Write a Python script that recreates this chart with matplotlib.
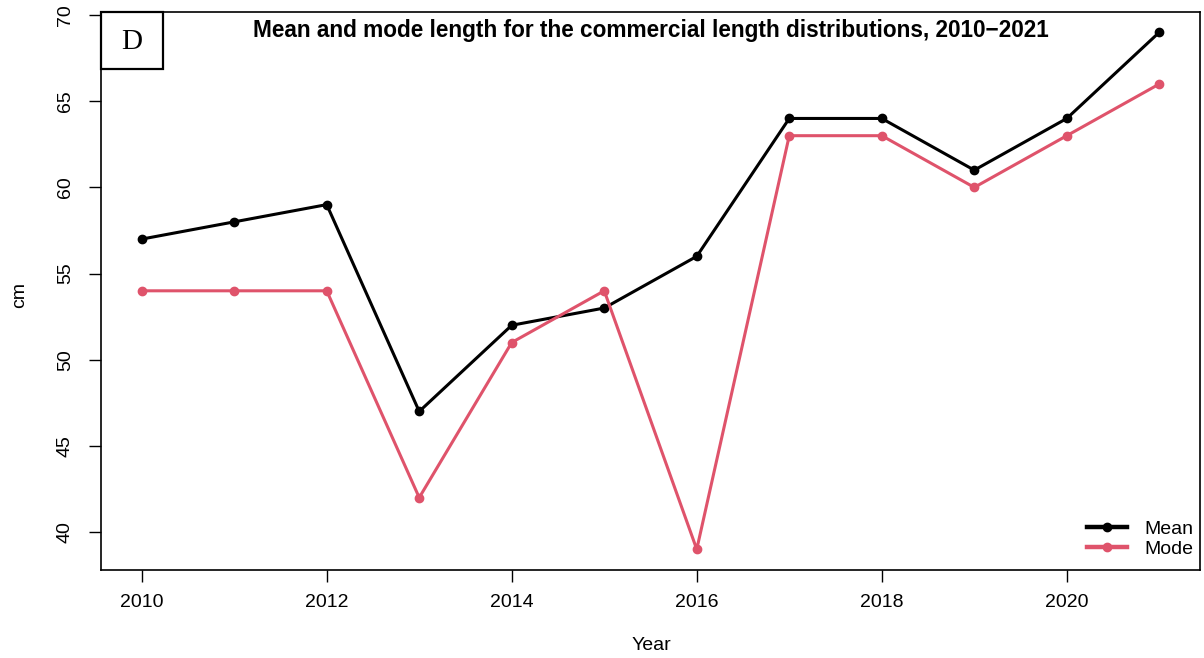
import matplotlib
matplotlib.use("Agg")
import matplotlib.pyplot as plt
from matplotlib.patches import Rectangle

years = [2010, 2011, 2012, 2013, 2014, 2015, 2016, 2017, 2018, 2019, 2020, 2021]
mean_len = [57, 58, 59, 47, 52, 53, 56, 64, 64, 61, 64, 69]
mode_len = [54, 54, 54, 42, 51, 54, 39, 63, 63, 60, 63, 66]
x_ticks = [2010, 2012, 2014, 2016, 2018, 2020]
y_ticks = [40, 45, 50, 55, 60, 65, 70]

plt.rcParams["font.family"] = ["Liberation Sans", "DejaVu Sans"]

W, H = 1204, 658
fig = plt.figure(figsize=(W / 100, H / 100), dpi=100)
ax = fig.add_axes([101 / W, 1 - 570 / H, 1099 / W, (570 - 11.6) / H])

ax.plot(years, mean_len, color="black", lw=2.2, marker="o", ms=6, label="Mean")
ax.plot(years, mode_len, color="#DF536B", lw=2.2, marker="o", ms=6, label="Mode")

ax.set_xlim(2010 - 0.44, 2021 + 0.44)
ax.set_ylim(37.8, 70.2)
ax.set_xticks(x_ticks)
ax.set_yticks(y_ticks)
ax.set_yticklabels([str(v) for v in y_ticks], rotation=90, va="center")
ax.tick_params(axis="both", labelsize=14, length=8.6, width=1)
ax.tick_params(axis="x", pad=9)
ax.tick_params(axis="y", pad=11)
for s in ax.spines.values():
    s.set_linewidth(1.2)

fig.text(651 / W, 1 - 645 / H, "Year", ha="center", va="center", fontsize=14)
fig.text(20 / W, 1 - 295 / H, "cm", ha="center", va="center", fontsize=14, rotation=90)

fig.text(651 / W, 1 - 30 / H,
         "Mean and mode length for the commercial length distributions, 2010\u22122021",
         ha="center", va="center", fontsize=16.3, fontweight="bold")

# panel letter box
fig.patches.append(Rectangle((101 / W, 1 - 69 / H), 62 / W, 57 / H, transform=fig.transFigure,
                             fc="white", ec="black", lw=1.6, zorder=5))
fig.text(132 / W, 1 - 42 / H, "D", ha="center", va="center", fontsize=21,
         family="Liberation Serif", zorder=6)

leg = ax.legend(loc="lower right", bbox_to_anchor=(1193 / W, 1 - 558 / H),
                bbox_transform=fig.transFigure, frameon=False, fontsize=14,
                handlelength=2.1, borderpad=0, borderaxespad=0,
                labelspacing=0.12, handletextpad=0.85)
for ln in leg.get_lines():
    ln.set_linewidth(3.2)

fig.savefig("out.png", dpi=100)
